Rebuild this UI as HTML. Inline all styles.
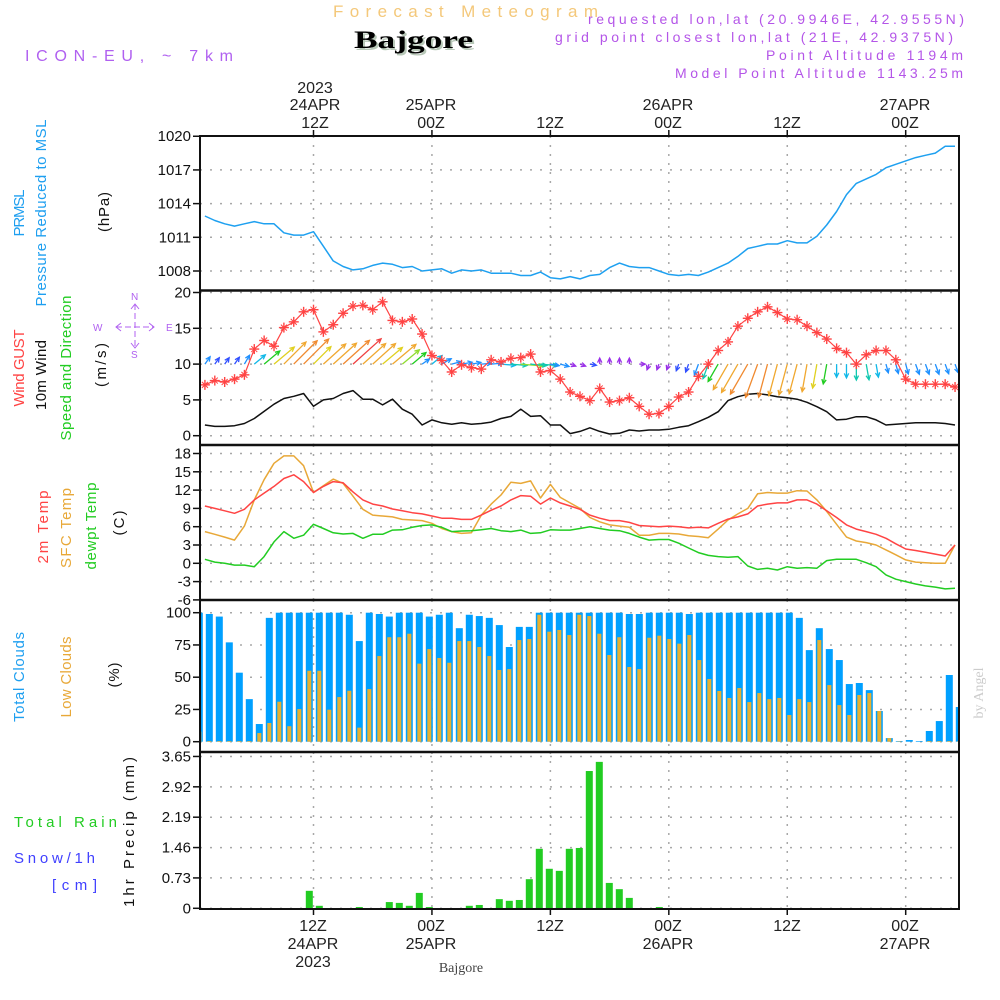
<!DOCTYPE html>
<html><head><meta charset="utf-8"><title>Forecast Meteogram Bajgore</title>
<style>
html,body{margin:0;padding:0;background:#fff;}
svg{display:block;font-family:"Liberation Sans",sans-serif;}
.tk{font-size:15px;fill:#111;text-anchor:end;}
.ax{font-size:16px;fill:#222;text-anchor:middle;}
.rl{font-size:15px;}
</style></head>
<body>
<svg id="chart" width="1000" height="1000" viewBox="0 0 1000 1000" xmlns="http://www.w3.org/2000/svg">
<defs>
<clipPath id="plotclip"><rect x="200" y="136" width="759" height="773"/></clipPath>
</defs>
<rect x="0" y="0" width="1000" height="1000" fill="#fff"/>

<!-- header -->
<text x="333" y="17" font-size="17" fill="#f4c87a" textLength="265" lengthAdjust="spacing">Forecast Meteogram</text>
<text x="356" y="50" font-family="Liberation Serif, serif" font-weight="bold" font-size="25" fill="#b8c8b8" textLength="119" lengthAdjust="spacingAndGlyphs">Bajgore</text>
<text x="354" y="48" font-family="Liberation Serif, serif" font-weight="bold" font-size="25" fill="#000" textLength="119" lengthAdjust="spacingAndGlyphs">Bajgore</text>
<text x="25" y="61" font-size="16" fill="#b060f0" textLength="208" lengthAdjust="spacing">ICON-EU, ~ 7km</text>
<text x="588" y="24" font-size="14" fill="#b455e8" textLength="376" lengthAdjust="spacing">requested lon,lat (20.9946E, 42.9555N)</text>
<text x="555" y="42" font-size="14" fill="#b455e8" textLength="398" lengthAdjust="spacing">grid point closest lon,lat (21E, 42.9375N)</text>
<text x="766" y="60" font-size="14" fill="#b455e8" textLength="197" lengthAdjust="spacing">Point Altitude 1194m</text>
<text x="675" y="78" font-size="14" fill="#b455e8" textLength="288" lengthAdjust="spacing">Model Point Altitude 1143.25m</text>

<!-- top time axis labels -->
<g>
<text class="ax" x="315" y="93">2023</text>
<text class="ax" x="315" y="110">24APR</text>
<text class="ax" x="315" y="128">12Z</text>
<text class="ax" x="431" y="110">25APR</text>
<text class="ax" x="431" y="128">00Z</text>
<text class="ax" x="550" y="128">12Z</text>
<text class="ax" x="668" y="110">26APR</text>
<text class="ax" x="668" y="128">00Z</text>
<text class="ax" x="787" y="128">12Z</text>
<text class="ax" x="905" y="110">27APR</text>
<text class="ax" x="905" y="128">00Z</text>
</g>

<!-- bottom time axis labels -->
<g>
<text class="ax" x="313" y="931">12Z</text>
<text class="ax" x="313" y="949">24APR</text>
<text class="ax" x="313" y="967">2023</text>
<text class="ax" x="431" y="931">00Z</text>
<text class="ax" x="431" y="949">25APR</text>
<text class="ax" x="550" y="931">12Z</text>
<text class="ax" x="668" y="931">00Z</text>
<text class="ax" x="668" y="949">26APR</text>
<text class="ax" x="787" y="931">12Z</text>
<text class="ax" x="905" y="931">00Z</text>
<text class="ax" x="905" y="949">27APR</text>
<text x="461" y="972" font-family="Liberation Serif, serif" font-size="14" fill="#444" text-anchor="middle">Bajgore</text>
</g>

<!-- left axis titles (rotated) -->
<g>
<text class="rl" transform="translate(24,213) rotate(-90)" text-anchor="middle" fill="#1e9ff0" textLength="47">PRMSL</text>
<text class="rl" transform="translate(46,213) rotate(-90)" text-anchor="middle" fill="#1e9ff0" textLength="187">Pressure Reduced to MSL</text>
<text class="rl" transform="translate(109,212) rotate(-90)" text-anchor="middle" fill="#111" textLength="40">(hPa)</text>
<text class="rl" transform="translate(24,368) rotate(-90)" text-anchor="middle" fill="#ff4444" textLength="77">Wind GUST</text>
<text class="rl" transform="translate(46,375) rotate(-90)" text-anchor="middle" fill="#111" textLength="70">10m Wind</text>
<text class="rl" transform="translate(71,368) rotate(-90)" text-anchor="middle" fill="#22cc22" textLength="145">Speed and Direction</text>
<text class="rl" transform="translate(106,365) rotate(-90)" text-anchor="middle" fill="#111" textLength="44">(m/s)</text>
<text class="rl" transform="translate(48,527) rotate(-90)" text-anchor="middle" fill="#ff4444" textLength="73">2m Temp</text>
<text class="rl" transform="translate(71,528) rotate(-90)" text-anchor="middle" fill="#e8a838" textLength="80">SFC Temp</text>
<text class="rl" transform="translate(96,526) rotate(-90)" text-anchor="middle" fill="#22cc22" textLength="87">dewpt Temp</text>
<text class="rl" transform="translate(124,523) rotate(-90)" text-anchor="middle" fill="#111" textLength="25">(C)</text>
<text class="rl" transform="translate(24,677) rotate(-90)" text-anchor="middle" fill="#1e9ff0" textLength="90">Total Clouds</text>
<text class="rl" transform="translate(71,677) rotate(-90)" text-anchor="middle" fill="#e8a838" textLength="81">Low Clouds</text>
<text class="rl" transform="translate(119,675) rotate(-90)" text-anchor="middle" fill="#111" textLength="25">(%)</text>
<text class="rl" transform="translate(134,832) rotate(-90)" text-anchor="middle" fill="#111" textLength="150">1hr Precip (mm)</text>
<text x="14" y="827" font-size="15" fill="#22cc22" textLength="103" lengthAdjust="spacing">Total  Rain</text>
<text x="14" y="863" font-size="15" fill="#4040ff" textLength="81" lengthAdjust="spacing">Snow/1h</text>
<text x="52" y="890" font-size="15" fill="#4040ff" textLength="45" lengthAdjust="spacing">[cm]</text>
<text transform="translate(983,693) rotate(-90)" text-anchor="middle" font-family="Liberation Serif, serif" font-size="14" fill="#cccccc">by Angel</text>
</g>

<!-- compass -->
<g fill="#b060f0" stroke="#b060f0" font-size="10">
<text x="131" y="300" stroke="none">N</text>
<text x="131" y="358" stroke="none">S</text>
<text x="93" y="331" stroke="none">W</text>
<text x="166" y="331" stroke="none">E</text>
<line x1="116" y1="327" x2="154" y2="327" stroke-width="1" stroke-dasharray="6,3"/>
<line x1="135" y1="304" x2="135" y2="348" stroke-width="1" stroke-dasharray="6,3"/>
<polyline points="121,323 116,327 121,331" fill="none"/>
<polyline points="149,323 154,327 149,331" fill="none"/>
<polyline points="131,309 135,304 139,309" fill="none"/>
<polyline points="131,343 135,348 139,343" fill="none"/>
</g>

<g id="grid"></g>
<g id="marks" clip-path="url(#plotclip)"></g>
<g id="axes"></g>
</svg>

<script>
// ---------- data (hourly, t = 1..77 h from 24APR 00Z) ----------
const pressure = [1012.9,1012.5,1012.2,1012.0,1012.2,1012.4,1012.2,1012.2,1011.4,1011.2,1011.2,1011.5,1010.2,1008.9,1008.4,1008.1,1008.2,1008.5,1008.7,1008.6,1008.3,1008.4,1008.0,1008.1,1008.2,1007.8,1008.1,1008.0,1008.1,1007.8,1007.8,1007.8,1007.6,1007.6,1007.9,1007.4,1007.3,1007.5,1007.3,1007.6,1007.7,1008.3,1008.7,1008.4,1008.3,1008.3,1008.0,1007.7,1007.6,1007.7,1007.6,1007.9,1008.3,1008.7,1009.3,1010.0,1010.2,1010.4,1010.4,1010.7,1010.5,1010.5,1011.1,1012.1,1013.3,1014.8,1015.8,1016.2,1016.6,1017.2,1017.5,1017.8,1018.1,1018.3,1018.5,1019.1,1019.1];
const gust = [7.1,7.7,7.5,7.9,8.5,12.1,13.3,12.5,15.1,15.9,17.3,17.6,14.5,15.5,17.1,18.1,18.2,17.6,18.7,16.1,15.9,16.3,14.2,11.2,10.5,8.9,9.9,9.5,9.3,10.6,10.3,10.8,10.9,11.4,8.9,9.1,7.9,6.1,5.5,4.9,6.6,4.7,4.9,5.3,4.1,3.0,3.1,4.1,5.4,6.1,8.3,10.0,11.9,13.1,15.3,16.4,17.3,18.0,17.2,16.3,16.2,15.3,14.4,13.5,12.2,11.6,10.0,11.3,11.9,11.9,10.6,7.9,7.2,7.2,7.2,7.2,6.8];
const wind10m = [1.5,1.3,1.3,1.4,1.7,2.4,3.4,4.4,5.2,5.5,5.9,4.1,5.0,5.2,5.9,6.3,5.1,5.1,4.3,5.1,3.7,3.0,1.5,2.2,1.8,1.6,1.8,1.6,1.7,1.9,2.4,2.7,3.7,2.7,2.8,1.5,1.5,0.3,0.6,1.1,0.6,0.24,0.33,0.8,0.65,0.8,0.8,0.89,1.17,1.4,1.96,2.57,3.35,4.9,5.45,5.78,5.9,5.7,5.45,5.3,5.1,4.66,4.05,3.35,2.2,2.3,2.66,2.66,2.2,1.5,1.6,1.7,1.8,1.8,1.8,1.7,1.5];
const windDir = [35,35,35,35,30,50,50,50,45,45,45,45,48,48,48,48,48,48,50,50,50,50,55,50,60,75,80,80,85,85,95,95,95,95,95,100,105,110,110,100,0,0,0,0,90,200,200,200,200,200,200,200,210,210,210,210,200,195,195,195,195,190,190,190,180,180,180,170,170,165,165,165,160,160,160,160,160];
const temp2m = [9.4,9.0,8.6,8.2,8.85,10.4,11.5,12.6,13.9,14.5,13.4,11.6,12.6,13.4,13.2,11.7,10.4,9.7,9.4,8.9,8.6,8.3,8.1,7.75,7.4,7.4,7.2,7.2,7.9,8.7,9.4,10.4,11.1,11.0,9.7,10.7,9.9,9.4,8.85,7.9,7.4,7.0,7.0,6.7,6.2,6.1,6.0,6.1,6.0,5.8,5.9,5.8,6.55,7.25,7.6,8.1,9.4,9.7,9.9,9.9,10.4,10.4,9.7,8.6,7.5,6.3,5.6,5.2,4.75,4.1,3.2,2.35,2.1,1.8,1.5,1.2,3.0];
const tempSfc = [5.2,4.75,4.3,3.8,6.1,10.4,13.7,16.4,17.6,17.6,16.0,11.6,12.7,13.8,13.1,11.0,8.85,7.9,7.75,7.6,7.2,7.1,7.0,6.55,5.7,5.2,4.9,5.0,7.9,9.7,11.2,13.3,13.1,13.5,10.7,12.95,10.8,9.9,9.0,7.5,6.8,6.3,6.1,5.9,4.6,4.6,4.9,4.9,4.8,4.5,4.4,4.2,5.6,7.1,8.1,9.0,11.4,11.6,11.5,11.5,11.9,11.85,10.4,8.5,6.4,4.3,3.65,3.4,3.0,2.2,1.4,0.55,0.2,0.1,0.0,0.0,3.0];
const dewpoint = [0.65,0.2,0.0,-0.3,-0.3,-0.55,1.1,3.5,5.2,4.1,4.6,6.4,5.7,5.0,4.8,4.9,4.1,4.75,4.75,5.45,5.5,5.9,6.2,6.3,5.9,5.2,5.3,5.35,5.5,5.7,5.35,5.2,5.45,4.9,5.0,5.5,5.45,5.45,5.7,6.0,5.7,5.45,5.35,4.9,4.3,3.8,3.9,3.9,3.3,2.5,1.75,1.3,1.1,1.0,1.1,-0.45,-1.0,-0.8,-1.1,-0.55,-0.8,-0.7,-0.8,0.45,0.65,0.65,0.65,0.1,-0.55,-1.9,-2.6,-3.0,-3.4,-3.7,-3.9,-4.2,-4.1];
// hourly bars k = 0..76
const totalClouds = [100,99,97,77,53.5,33,13.7,96,100,100,100,100,100,100,100,98.4,78,100,99,97,100,100,100,97,98.4,100,88,98.4,97.4,96,90.4,73.4,89,89,100,100,100,100,100,100,100,100,100,99,99,100,100,100,100,99,100,100,100,100,100,100,100,100,100,100,96,71,88,71.8,63.3,44.7,45.5,40,23.8,2.8,0.5,1.3,0.5,8.3,16,51.7,26.9];
const lowClouds = [7.8,0.5,0.5,0.5,0.5,0.5,6.7,14.5,31,12,25.3,55,55,24.8,34.6,39.5,10.9,40.8,66.4,81,81,83.7,60.5,71.8,64.9,61.2,78,78,73.4,66.4,55.6,56.3,78.8,79.6,98.4,85.3,86.6,82.7,98.4,97.4,83.7,67.2,81,57.9,56.3,80.6,82.2,79.6,76,82.7,63.3,48.6,39.3,33.9,41.6,30.7,37.7,33,33.9,20.7,33,30.7,78.8,43.9,28.4,20.7,36.2,37.7,23.8,2.8,0.3,0,0,0.5,0.5,0.5,0.5];
const precip = [0,0,0,0,0,0,0,0,0,0,0,0.42,0.06,0,0,0,0.03,0,0,0.15,0.13,0.06,0.37,0.03,0,0,0,0.06,0.08,0,0.22,0.18,0.2,0.7,1.43,0.95,0.9,1.43,1.45,3.3,3.52,0.61,0.46,0.25,0,0,0.03,0,0,0,0,0,0,0,0,0,0,0,0,0,0,0,0,0,0,0,0,0,0,0,0,0,0,0,0,0,0];
// tick labels
const pressureTicks = [1008,1011,1014,1017,1020];
const windTicks = [0,5,10,15,20];
const tempTicks = [-6,-3,0,3,6,9,12,15,18];
const cloudTicks = [0,25,50,75,100];
const precipTicks = [0,0.73,1.46,2.19,2.92,3.65];
const timeGridHours = [12,24,36,48,60,72];

// ---------- scales ----------
const X0 = 200, X1 = 959;
function xT(t){ return 313.5 + (t - 12) * 9.87; }
function xB(k){ return 199.3 + 10 * k; }
function yP(p){ return 271 - (p - 1008) * 11.23; }
function yW(w){ return 435.7 - w * 7.16; }
function yT(v){ return 563.3 - v * 6.1; }
function yC(c){ return 741.7 - c * 1.29; }
function yR(r){ return 908.3 - r * 41.6; }

const NS = "http://www.w3.org/2000/svg";
const grid = document.getElementById('grid');
const marks = document.getElementById('marks');
const axes = document.getElementById('axes');
function mk(tag, parent, attrs){
  const e = document.createElementNS(NS, tag);
  for (const k in attrs) e.setAttribute(k, attrs[k]);
  parent.appendChild(e);
  return e;
}

const panels = [
  {top:136, bot:290.5, ticks:pressureTicks, y:yP, fmt:v=>String(v), name:'pressure'},
  {top:290.5, bot:445, ticks:windTicks, y:yW, fmt:v=>String(v), name:'wind'},
  {top:445, bot:600, ticks:tempTicks, y:yT, fmt:v=>String(v), name:'temperature'},
  {top:600, bot:752, ticks:cloudTicks, y:yC, fmt:v=>String(v), name:'clouds'},
  {top:752, bot:909, ticks:precipTicks, y:yR, fmt:v=>(v===0?'0':v.toFixed(2)), name:'precip'}
];

// gridlines, ticks, labels
panels.forEach(p=>{
  p.ticks.forEach(v=>{
    const y = p.y(v);
    const g = mk('line', grid, {x1:X0, x2:X1, y1:y, y2:y, stroke:'#a8a8a8', 'stroke-width':1.5, 'stroke-dasharray':'2,8'});
    
    
    const tk = mk('line', axes, {x1:193, x2:X0, y1:y, y2:y, stroke:'#111', 'stroke-width':1.5});
    
    
    if (y >= p.top - 6 && y <= p.bot + 6) {
      const lb = mk('text', axes, {x:191, y:y+5, class:'tk'});
      lb.textContent = p.fmt(v);
      
      
    }
  });
  timeGridHours.forEach(h=>{
    const x = xT(h);
    const g = mk('line', grid, {x1:x, x2:x, y1:p.top, y2:p.bot, stroke:'#a8a8a8', 'stroke-width':1.5, 'stroke-dasharray':'2,7'});
    
    
  });
});
timeGridHours.forEach(h=>{
  const x = xT(h);
  const t1 = mk('line', axes, {x1:x, x2:x, y1:130, y2:136, stroke:'#111', 'stroke-width':1.5});
  
  
  const t2 = mk('line', axes, {x1:x, x2:x, y1:909, y2:915, stroke:'#111', 'stroke-width':1.5});
  
  
});

// ---------- marks ----------
function poly(arr, yf, color, w, name){
  const pts = arr.map((v,i)=> xT(i+1).toFixed(1) + ',' + yf(v).toFixed(1)).join(' ');
  const pl = mk('polyline', marks, {points:pts, fill:'none', stroke:color, 'stroke-width':w, 'stroke-linejoin':'round'});
  
  
}
// clouds
totalClouds.forEach((v,k)=>{
  const r = mk('rect', marks, {x:xB(k)-3.5, y:yC(v), width:7, height:yC(0)-yC(v), fill:'#00a0ff'});
  
  
});
lowClouds.forEach((v,k)=>{
  const r = mk('rect', marks, {x:xB(k)-2, y:yC(v), width:4, height:yC(0)-yC(v), fill:'#e8b030'});
  
  
});
// precip
precip.forEach((v,k)=>{
  if (v <= 0) return;
  const r = mk('rect', marks, {x:xB(k)-3.5, y:yR(v), width:7, height:yR(0)-yR(v), fill:'#22cc22'});
  
  
});
// pressure
poly(pressure, yP, '#1ea0f0', 1.5, 'pressure-line');
// temps
poly(tempSfc, yT, '#e8a838', 1.5, 'sfc-temp-line');
poly(temp2m, yT, '#ff4444', 1.5, 'temp-2m-line');
poly(dewpoint, yT, '#22cc22', 1.5, 'dewpoint-line');
// wind 10m
poly(wind10m, yW, '#111', 1.5, 'wind-10m-line');
// wind arrows
function windColor(s){
  if (s < 1) return '#9a30e8';
  if (s < 1.5) return '#3050ff';
  if (s < 2) return '#1e90ff';
  if (s < 2.5) return '#10b8e8';
  if (s < 3) return '#10c8b0';
  if (s < 3.5) return '#20cc20';
  if (s < 4) return '#90dc30';
  if (s < 4.5) return '#e0d020';
  if (s < 5.5) return '#f0a830';
  if (s < 6.2) return '#f08a30';
  return '#f04040';
}
windDir.forEach((d,i)=>{
  const s = wind10m[i];
  const L = Math.max(6, s * 6);
  const x0 = xT(i+1), y0 = yW(10);
  const a = d * Math.PI / 180;
  const x1 = x0 + L * Math.sin(a), y1 = y0 - L * Math.cos(a);
  const c = windColor(s);
  const g = mk('g', marks, {stroke:c, 'stroke-width':1.3, fill:'none'});
  
  
  mk('line', g, {x1:x0, y1:y0, x2:x1, y2:y1});
  const hl = 5, sp = 0.45;
  const hx1 = x1 - hl * Math.sin(a - sp), hy1 = y1 + hl * Math.cos(a - sp);
  const hx2 = x1 - hl * Math.sin(a + sp), hy2 = y1 + hl * Math.cos(a + sp);
  mk('polyline', g, {points: hx1+','+hy1+' '+x1+','+y1+' '+hx2+','+hy2});
});
// gust
poly(gust, yW, '#ff4444', 1.2, 'gust-line');
gust.forEach((v,i)=>{
  const x = xT(i+1), y = yW(v);
  const g = mk('g', marks, {stroke:'#ff4444', 'stroke-width':1.4});
  
  
  mk('line', g, {x1:x-5, x2:x+5, y1:y, y2:y});
  mk('line', g, {x1:x, x2:x, y1:y-5, y2:y+5});
  mk('line', g, {x1:x-3, x2:x+3, y1:y-3, y2:y+3, 'stroke-width':1});
  mk('line', g, {x1:x-3, x2:x+3, y1:y+3, y2:y-3, 'stroke-width':1});
});

// frames
const frame = mk('rect', axes, {x:X0, y:136, width:X1-X0, height:773, fill:'none', stroke:'#111', 'stroke-width':2});


[290.5, 445, 600, 752].forEach(y=>{
  const l = mk('line', axes, {x1:X0, x2:X1, y1:y, y2:y, stroke:'#111', 'stroke-width':2.5});
  
  
});
</script>
</body></html>
